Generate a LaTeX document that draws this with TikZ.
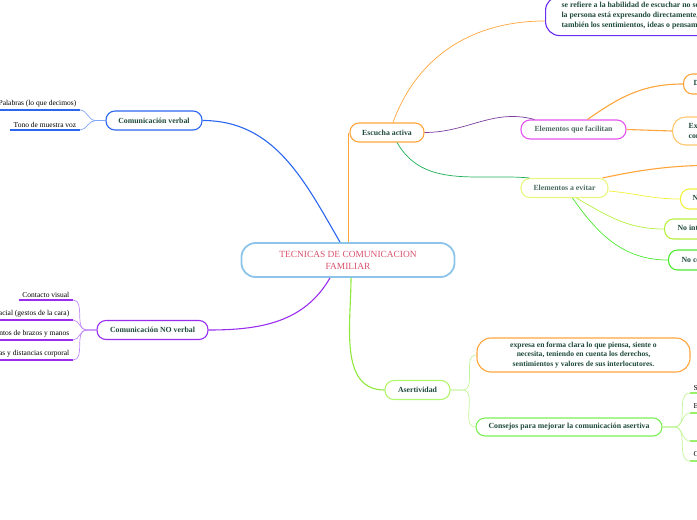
\documentclass[tikz,border=0pt]{standalone}
\usepackage{fontspec}
\setmainfont{Liberation Serif}

\definecolor{azul}{HTML}{2B66F0}
\definecolor{azulpal}{HTML}{7FA6F5}
\definecolor{morado}{HTML}{9A2EF0}
\definecolor{moradopal}{HTML}{C38BF5}
\definecolor{morado2}{HTML}{6A2CF0}
\definecolor{violeta}{HTML}{7B3E9E}
\definecolor{naranja}{HTML}{FFA53A}
\definecolor{naranjapal}{HTML}{FFC86E}
\definecolor{magenta2}{HTML}{E455F0}
\definecolor{amarillopal}{HTML}{E9F77E}
\definecolor{amarillo}{HTML}{F2F03A}
\definecolor{amverde}{HTML}{B5F03E}
\definecolor{verdevivo}{HTML}{4CEB2E}
\definecolor{verdeosc}{HTML}{1FAF55}
\definecolor{verdeclaro}{HTML}{B2F56E}
\definecolor{verdelima}{HTML}{7CF055}
\definecolor{lima}{HTML}{8FE83A}
\definecolor{verdepal}{HTML}{C2F59A}
\definecolor{verdehoja}{HTML}{9AF06A}
\definecolor{verdetxt}{HTML}{1E4A3A}
\definecolor{grisverde}{HTML}{4E6B60}
\definecolor{rojotxt}{HTML}{D9506C}
\definecolor{bordeazul}{HTML}{8DC5EA}

\tikzset{
    tema/.style={draw, fill=white, rounded corners=9pt, line width=1.1pt,
        font=\bfseries\fontsize{7.8}{9.5}\selectfont, text=verdetxt,
        align=center, inner xsep=8pt, inner ysep=3pt, minimum height=19pt},
    hoja/.style={font=\fontsize{7.5}{9}\selectfont, text=black,
        inner xsep=3.5pt, inner ysep=2.5pt},
    rama/.style={line width=1.1pt},
    fina/.style={line width=0.7pt},
}

\begin{document}
\begin{tikzpicture}[x=1pt, y=-1pt]
    \useasboundingbox (0,0) rectangle (697,520);
    \clip (0,0) rectangle (697,520);

    % 中心主题
    \node[tema, draw=bordeazul, line width=1.8pt, rounded corners=14pt,
        minimum width=213pt, minimum height=34pt,
        font=\fontsize{9.4}{12}\selectfont, text=rojotxt] (ctr) at (348,260)
        {TECNICAS DE COMUNICACION\\FAMILIAR};

    % 左侧分支
    \node[tema, draw=azul, minimum width=96pt] (verbal) at (154,120.5) {Comunicación verbal};
    \node[tema, draw=morado, minimum width=111pt] (noverbal) at (152.5,330) {Comunicación NO verbal};

    \node[hoja, anchor=south east] (pal) at (80,110) {Palabras (lo que decimos)};
    \node[hoja, anchor=south east] (tono) at (80,130) {Tono de muestra voz};

    \node[hoja, anchor=south east] (contacto) at (73,300) {Contacto visual};
    \node[hoja, anchor=south east] (facial) at (73,320) {Expresión facial (gestos de la cara)};
    \node[hoja, anchor=south east] (brazos) at (73,340) {Movimientos de brazos y manos};
    \node[hoja, anchor=south east] (postura) at (73,360) {Posturas y distancias corporal};

    % 右侧：Escucha activa
    \node[tema, draw=naranja, minimum width=74pt] (escucha) at (387,132.5) {Escucha activa};
    \node[tema, draw=morado2, anchor=west, align=left, rounded corners=14pt,
        inner xsep=16pt, inner ysep=6pt, font=\bfseries\fontsize{7.8}{10}\selectfont] (escdef) at (545,16)
        {se refiere a la habilidad de escuchar no sólo lo que\\la persona está expresando directamente, sino\\también los sentimientos, ideas o pensamientos};
    \node[tema, draw=magenta2, minimum width=105pt, text=grisverde] (facil) at (573.5,129.5) {Elementos que facilitan};
    \node[tema, draw=amarillopal, minimum width=87pt, text=grisverde] (evitar) at (564.5,188) {Elementos a evitar};

    \node[tema, draw=naranja, anchor=west, minimum height=20pt, inner xsep=10pt] (dbox) at (683,84) {Disposición psicológica};
    \node[tema, draw=naranjapal, anchor=west, align=left, minimum height=28pt,
        rounded corners=13pt, inner xsep=16pt] (exbox) at (672,131)
        {Expresar al otro que le escuchas\\con comunicación verbal};
    \node[tema, draw=amarillo, anchor=west, minimum height=20pt, inner xsep=12pt] (nbox) at (680,199) {No juzgar};
    \node[tema, draw=amverde, anchor=west, minimum height=20pt, inner xsep=13pt] (nint) at (664,229) {No interrumpir al que habla};
    \node[tema, draw=verdevivo, anchor=west, minimum height=20pt, inner xsep=13pt] (ncon) at (668,260) {No contar tu historia};
    \coordinate (fuera) at (730,165);

    % 右下：Asertividad
    \node[tema, draw=verdeclaro, minimum width=65pt] (asert) at (417.5,390) {Asertividad};
    \node[tema, draw=naranja, minimum width=213pt, minimum height=34pt, rounded corners=14pt,
        font=\bfseries\fontsize{7.6}{9.5}\selectfont] (asertdef) at (583.5,355)
        {expresa en forma clara lo que piensa, siente o\\necesita, teniendo en cuenta los derechos,\\sentimientos y valores de sus interlocutores.};
    \node[tema, draw=verdelima, minimum width=186pt, minimum height=18pt] (consejos) at (569,427)
        {Consejos para mejorar la comunicación asertiva};

    \node[hoja, anchor=south west] (c1) at (690,393) {Saber decir no};
    \node[hoja, anchor=south west] (c2) at (690,413) {Expresa tus sentimientos};
    \node[hoja, anchor=south west, minimum width=20pt] (c3) at (690,441) {};
    \node[hoja, anchor=south west] (c4) at (690,461) {Cuida tu lenguaje corporal};

    % 主连线
    \draw[rama, azul] (verbal.east) to[out=0, in=120] ([xshift=-8pt]ctr.north);
    \draw[rama, naranja] ([xshift=-1pt]escucha.west |- ctr.north) -- ([xshift=-1pt]escucha.west);
    \draw[rama, morado] (noverbal.east) to[out=0, in=-120] ([xshift=-18pt]ctr.south);
    \draw[rama, lima] ([xshift=3pt]ctr.south) to[out=-90, in=180] (asert.west);

    % 次级连线
    \draw[fina, naranja] ([xshift=6pt]escucha.north) to[out=70, in=180] ([yshift=-5pt]escdef.west);
    \draw[fina, violeta] (escucha.east) to[out=0, in=165] ([xshift=14pt]facil.north west);
    \draw[fina, verdeosc] ([xshift=10pt]escucha.south) to[out=-60, in=175] ([xshift=9pt]evitar.north west);
    \draw[rama, naranja] ([xshift=14pt]facil.north) to[out=35, in=180] (dbox.west);
    \draw[rama, naranja] (facil.east) -- (exbox.west);
    \draw[rama, naranja] ([xshift=-6pt]evitar.north east) to[out=12, in=180] (fuera);
    \draw[fina, amarillo] ([yshift=-3pt]evitar.east) to[out=-5, in=180] (nbox.west);
    \draw[fina, amverde] ([xshift=12pt]evitar.south) to[out=-30, in=180] (nint.west);
    \draw[fina, verdevivo] ([xshift=8pt]evitar.south) to[out=-55, in=180] (ncon.west);

    % 叶子下划线
    \foreach \n in {pal,tono} {
        \draw[line width=1.3pt, azul] (\n.south west) -- (\n.south east);
        \draw[fina, azulpal] (verbal.west) -- ++(-10,0) to[out=180, in=0] (\n.south east);
    }
    \foreach \n in {contacto,facial,brazos,postura} {
        \draw[line width=1.3pt, morado] (\n.south west) -- (\n.south east);
        \draw[fina, moradopal] (noverbal.west) -- ++(-10,0) to[out=180, in=0] (\n.south east);
    }
    \foreach \n in {c1,c2,c3,c4} {
        \draw[line width=1.3pt, verdehoja] (\n.south west) -- ([xshift=20pt]\n.south east);
        \draw[fina, verdepal] (consejos.east) -- ++(12,0) to[out=0, in=180] (\n.south west);
    }
    \foreach \n in {asertdef,consejos}
        \draw[fina, verdepal] (asert.east) -- ++(12,0) to[out=0, in=180] (\n.west);
\end{tikzpicture}
\end{document}
